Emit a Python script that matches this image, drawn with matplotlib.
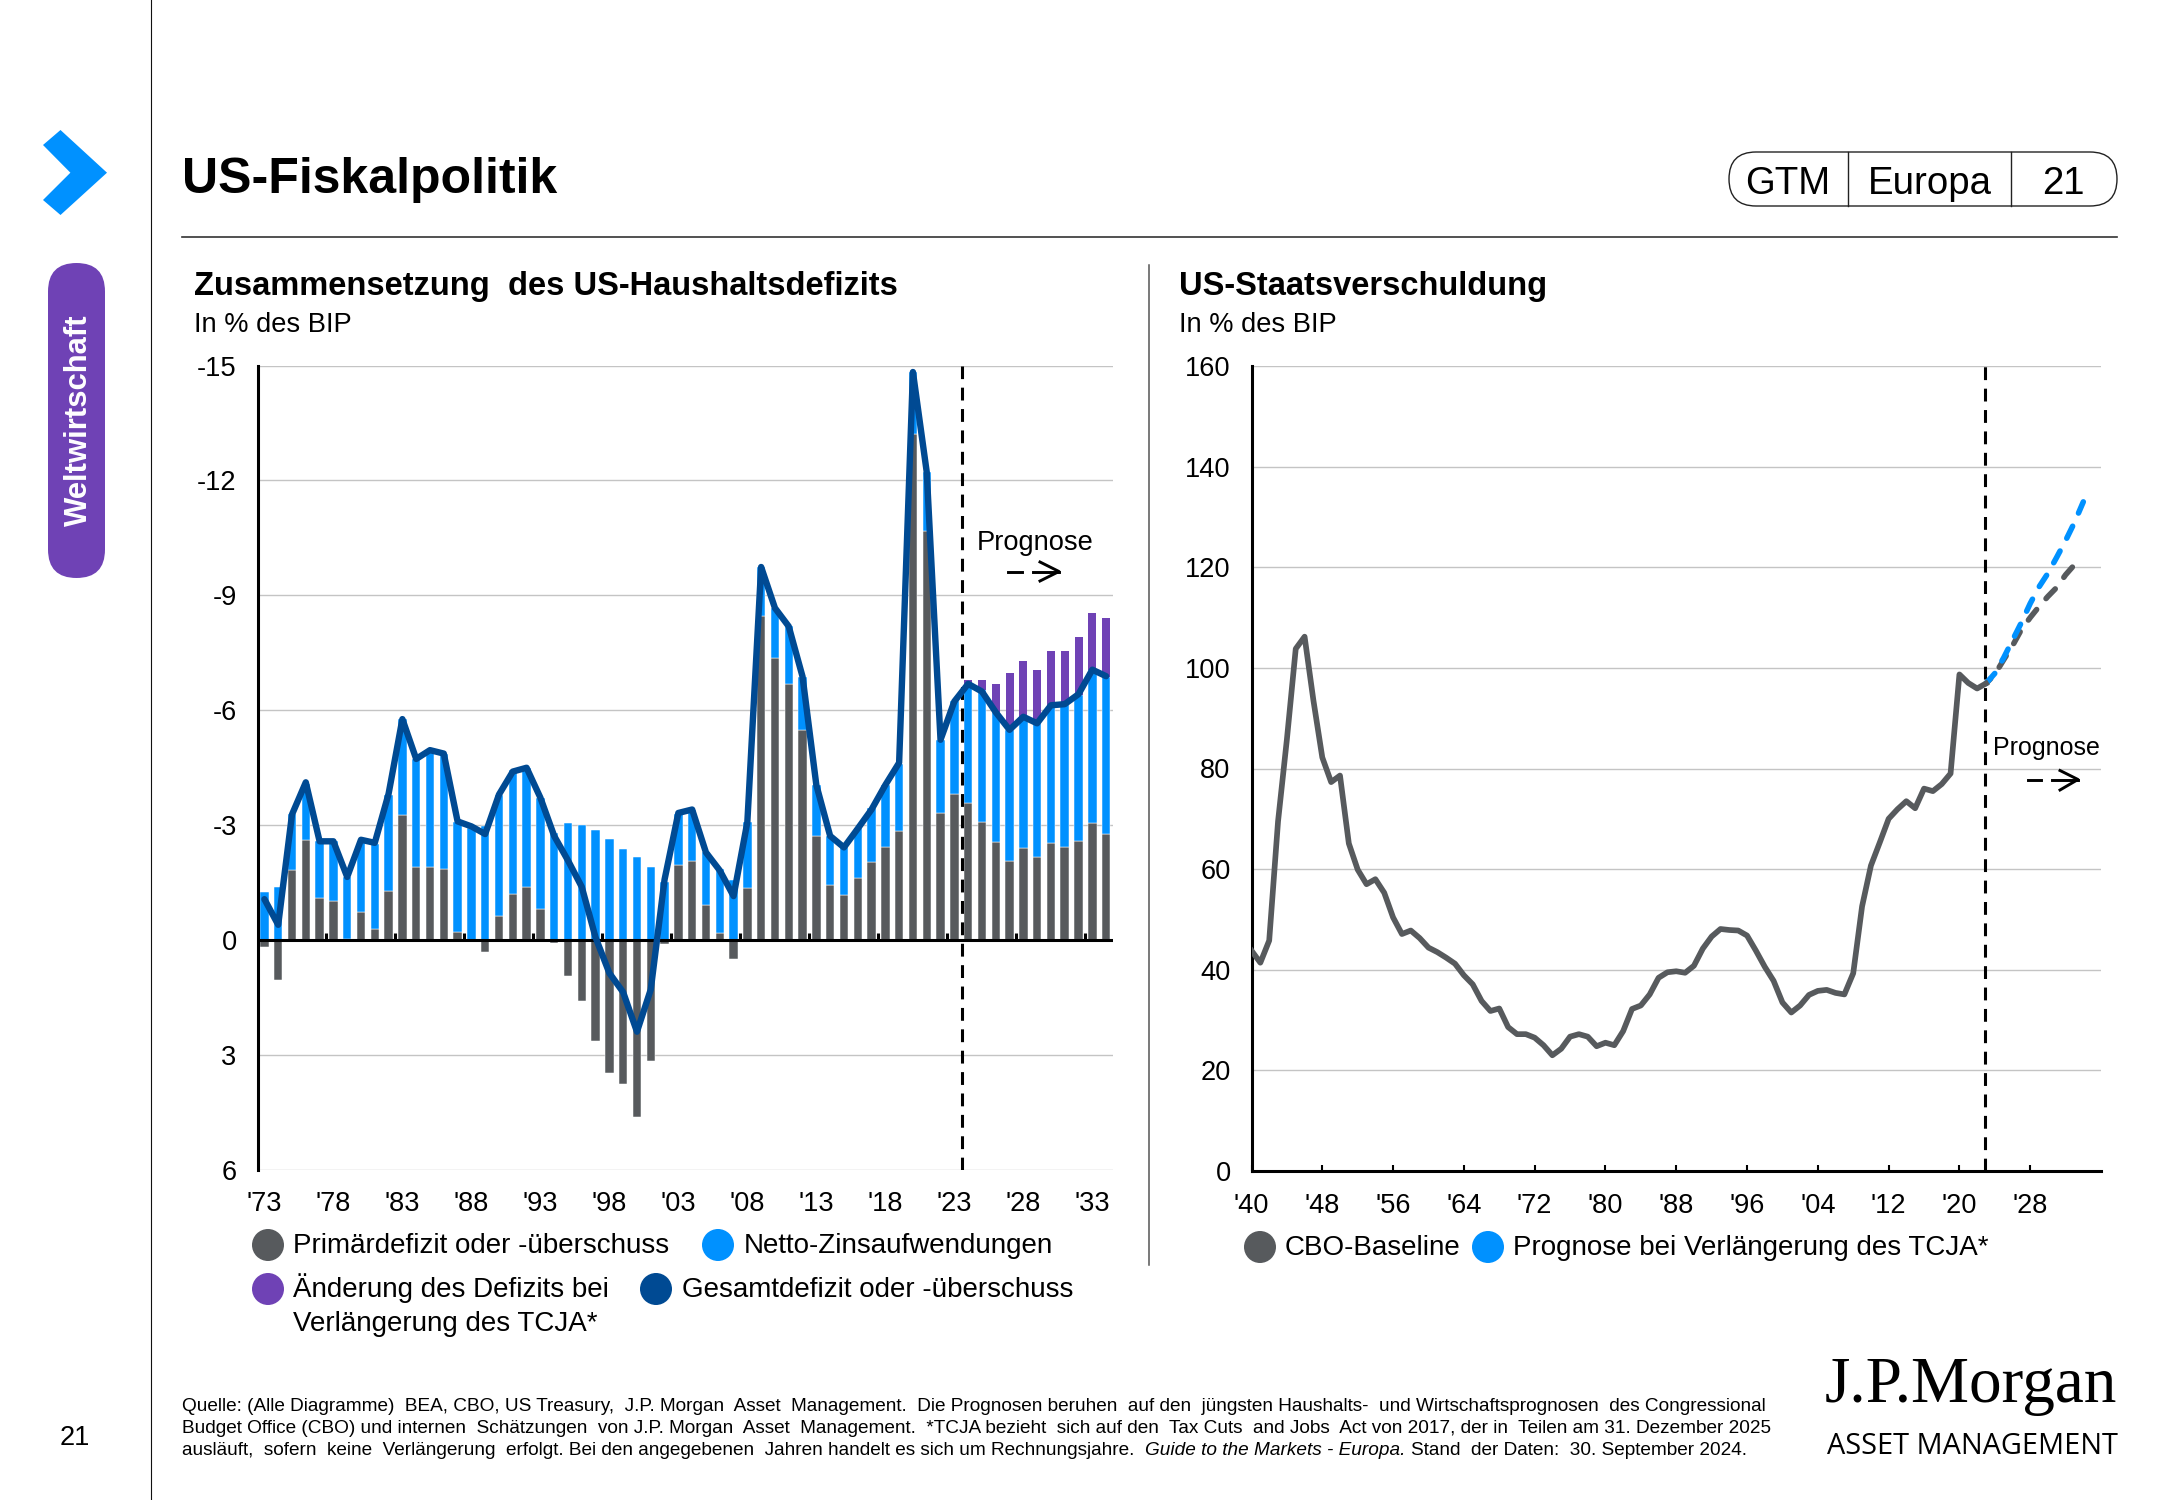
import numpy as np
import matplotlib
matplotlib.use("Agg")
import matplotlib.pyplot as plt
from matplotlib.patches import Circle, FancyBboxPatch, Polygon

plt.rcParams["font.family"] = ["Liberation Sans", "DejaVu Sans"]

W, H = 2167, 1500
GREY = "#575A5D"
BLUE = "#0091FF"
PURPLE = "#6F42B5"
NAVY = "#004A93"
GRID = "#C4C4C4"
TEXT = 19.6

# left chart, fiscal years 1973-2034, % of GDP, deficit is negative
years_left = list(range(1973, 2035))
primary = [0.19, 1.05, -1.83, -2.62, -1.10, -1.02, -0.03, -0.73, -0.29, -1.29,
           -3.27, -1.90, -1.90, -1.85, -0.21, 0.0, 0.32, -0.63, -1.20, -1.39,
           -0.82, 0.07, 0.93, 1.59, 2.64, 3.47, 3.75, 4.61, 3.15, 0.10,
           -1.96, -2.06, -0.92, -0.19, 0.50, -1.36, -8.47, -7.36, -6.69, -5.49,
           -2.72, -1.43, -1.17, -1.62, -2.03, -2.44, -2.85, -13.22, -10.69, -3.32,
           -3.81, -3.58, -3.08, -2.55, -2.06, -2.41, -2.16, -2.54, -2.44, -2.59,
           -3.05, -2.76]
# top of the blue segment
interest_top = [-1.25, -1.40, -3.28, -4.08, -2.58, -2.58, -1.65, -2.60, -2.50, -3.80,
                -5.77, -4.73, -4.95, -4.87, -3.08, -2.93, -2.98, -3.80, -4.44, -4.50,
                -3.72, -2.80, -3.05, -3.00, -2.87, -2.65, -2.39, -2.16, -1.92, -1.53,
                -3.30, -3.40, -2.30, -1.86, -1.58, -3.08, -9.74, -8.67, -8.20, -6.88,
                -4.05, -2.72, -2.44, -2.94, -3.44, -4.05, -4.61, -14.83, -12.22, -5.23,
                -6.23, -6.66, -6.52, -5.95, -5.49, -5.80, -5.66, -6.12, -6.16, -6.40,
                -7.05, -6.88]
# TCJA extension, top of the purple segment, 2024-2034
tcja_top = [-6.80, -6.78, -6.68, -6.98, -7.28, -7.06, -7.54, -7.56, -7.91, -8.55, -8.42]
total = [-1.07, -0.40, -3.28, -4.12, -2.58, -2.58, -1.65, -2.62, -2.54, -3.82,
         -5.77, -4.73, -4.96, -4.87, -3.10, -2.97, -2.77, -3.80, -4.40, -4.50,
         -3.72, -2.72, -2.08, -1.39, -0.07, 0.86, 1.36, 2.39, 1.29, -1.58,
         -3.32, -3.41, -2.29, -1.82, -1.15, -3.08, -9.74, -8.67, -8.19, -6.88,
         -4.05, -2.72, -2.42, -2.91, -3.41, -4.05, -4.63, -14.83, -12.22, -5.23,
         -6.23, -6.69, -6.49, -5.95, -5.49, -5.83, -5.66, -6.13, -6.16, -6.42,
         -7.06, -6.89]
left_ticks = [-15, -12, -9, -6, -3, 0, 3, 6]
left_tick_labels = ["-15", "-12", "-9", "-6", "-3", "0", "3", "6"]
left_year_labels = ["'73", "'78", "'83", "'88", "'93", "'98", "'03", "'08", "'13", "'18", "'23", "'28", "'33"]

# right chart, federal debt, % of GDP
years_debt = list(range(1940, 2024))
debt = [43.8, 41.4, 45.8, 69.5, 85.8, 103.8, 106.2, 93.5, 82.2, 77.3,
        78.6, 65.1, 59.9, 57.0, 58.0, 55.3, 50.4, 47.1, 47.8, 46.3,
        44.4, 43.5, 42.4, 41.2, 38.9, 37.1, 33.8, 31.8, 32.3, 28.6,
        27.2, 27.2, 26.5, 25.0, 23.0, 24.3, 26.7, 27.2, 26.7, 24.8,
        25.5, 25.0, 27.8, 32.2, 32.9, 35.1, 38.4, 39.5, 39.7, 39.4,
        40.8, 44.2, 46.6, 48.1, 47.9, 47.8, 46.8, 43.8, 40.6, 37.8,
        33.5, 31.5, 32.9, 35.0, 35.8, 36.0, 35.4, 35.1, 39.3, 52.6,
        60.7, 65.3, 70.0, 71.9, 73.5, 72.1, 76.0, 75.5, 76.9, 79.0,
        98.7, 97.0, 95.9, 96.9]
years_proj = list(range(2023, 2035))
baseline_proj = [96.9, 98.7, 101.6, 104.4, 107.6, 110.0, 112.2, 114.2, 116.0, 118.5, 120.5, 121.8]
tcja_proj = [96.9, 98.9, 102.0, 105.5, 109.0, 112.8, 116.1, 118.8, 122.0, 125.3, 128.9, 133.0]
debt_ticks = [0, 20, 40, 60, 80, 100, 120, 140, 160]
debt_years = list(range(1940, 2029, 8))
debt_year_labels = ["'40", "'48", "'56", "'64", "'72", "'80", "'88", "'96", "'04", "'12", "'20", "'28"]


def px_axes(x0, y0, x1, y1):
    return fig.add_axes([x0 / W, 1 - y1 / H, (x1 - x0) / W, (y1 - y0) / H])


def style_axes(ax):
    ax.set_facecolor("none")
    ax.grid(axis="y", color=GRID, lw=1.0, zorder=0)
    ax.set_axisbelow(True)
    for s in ["top", "right", "bottom"]:
        ax.spines[s].set_visible(False)
    ax.spines["left"].set_linewidth(2.2)
    ax.tick_params(axis="y", length=0, pad=15, labelsize=TEXT)


fig = plt.figure(figsize=(W / 100, H / 100), dpi=100, facecolor="white")

# page layer in pixel coordinates
page = fig.add_axes([0, 0, 1, 1])
page.set_xlim(0, W)
page.set_ylim(H, 0)
page.axis("off")

page.plot([151, 151], [0, H], color="#111111", lw=0.8)
page.plot([182, 2117], [236.5, 236.5], color="#333333", lw=1.2)
page.plot([1149, 1149], [265, 1265], color="#555555", lw=1.1)

page.add_patch(Polygon([(60.5, 130), (107, 172.7), (60.5, 215), (43, 200), (70.4, 172.7), (43, 145)],
                       closed=True, color=BLUE, lw=0, joinstyle="round"))
page.add_patch(FancyBboxPatch((48 + 28.5, 263 + 28.5), 0, 315 - 57, boxstyle="round,pad=28.5,rounding_size=28.5",
                              fc=PURPLE, ec="none"))
page.text(79, 420, "Weltwirtschaft", rotation=90, color="white", fontsize=22.3, fontweight="bold",
          ha="center", va="center")
page.text(75, 1438, "21", fontsize=TEXT, ha="center", va="center")

page.text(182, 193, "US-Fiskalpolitik", fontsize=36, fontweight="bold", va="baseline")

# GTM badge
page.add_patch(FancyBboxPatch((1729 + 27, 152 + 27), 388 - 54, 0, boxstyle="round,pad=27,rounding_size=27",
                              fc="none", ec="#222222", lw=1.0))
for sep in [1848, 2011]:
    page.plot([sep, sep], [152, 206], color="#222222", lw=1.0)
for lbl, cx in [("GTM", 1788), ("Europa", 1930), ("21", 2063)]:
    page.text(cx, 193.5, lbl, fontsize=27.6, ha="center", va="baseline")

page.text(194, 295.5, "Zusammensetzung  des US-Haushaltsdefizits", fontsize=23.5, fontweight="bold", va="baseline")
page.text(194, 332, "In % des BIP", fontsize=TEXT, va="baseline")
page.text(1179, 295.5, "US-Staatsverschuldung", fontsize=23.5, fontweight="bold", va="baseline")
page.text(1179, 332, "In % des BIP", fontsize=TEXT, va="baseline")

# left chart
ax1 = px_axes(257.5, 365.5, 1113, 1170)
style_axes(ax1)
xs = np.arange(len(years_left))
prim = np.array(primary)
top = np.array(interest_top)
deficit_part = np.minimum(prim, 0)
ax1.bar(xs, prim, width=0.61, color=GREY, edgecolor="white", linewidth=0.35, zorder=2)
ax1.bar(xs, top - deficit_part, bottom=deficit_part, width=0.61, color=BLUE, edgecolor="white", linewidth=0.35, zorder=2)
fc = np.arange(years_left.index(2024), len(years_left))
ax1.bar(fc, np.array(tcja_top) - top[fc], bottom=top[fc], width=0.58, color=PURPLE, linewidth=0, zorder=2)
ax1.axhline(0, color="black", lw=2.2, zorder=3)
ax1.vlines(np.arange(4.5, 60, 5), 0, -0.18, color="black", lw=2.2, zorder=3)
ax1.axvline(50.55, color="black", lw=2.2, linestyle=(0, (4.2, 2.8)), zorder=4)
ax1.plot(xs, total, color=NAVY, lw=4.6, solid_joinstyle="round", solid_capstyle="round", zorder=5)
ax1.set_xlim(-0.5, 61.5)
ax1.set_ylim(6, -15)
ax1.set_yticks(left_ticks)
ax1.set_yticklabels(left_tick_labels)
ax1.set_xticks(xs[::5])
ax1.set_xticklabels(left_year_labels, fontsize=TEXT)
ax1.tick_params(axis="x", length=0, pad=15)

# right chart
ax2 = px_axes(1251.5, 366, 2101, 1171)
style_axes(ax2)
ax2.spines["bottom"].set_visible(True)
ax2.spines["bottom"].set_linewidth(2.2)
ax2.plot(years_proj, baseline_proj, color=GREY, lw=4.0, linestyle=(1.2, (2.4, 2.6)), dash_capstyle="round", zorder=3)
ax2.plot(years_proj, tcja_proj, color=BLUE, lw=4.0, linestyle=(0, (2.4, 2.6)), dash_capstyle="round", zorder=4)
ax2.plot(years_debt, debt, color=GREY, lw=4.1, solid_joinstyle="round", zorder=5)
ax2.axvline(2022.85, color="black", lw=2.2, linestyle=(0, (4.2, 2.8)), zorder=2)
ax2.set_xlim(1940, 2036)
ax2.set_ylim(0, 160)
ax2.set_yticks(debt_ticks)
ax2.set_xticks(debt_years)
ax2.set_xticklabels(debt_year_labels, fontsize=TEXT)
ax2.tick_params(axis="x", direction="in", length=4, width=1.5, pad=16)

# forecast notes
page.set_zorder(5)
page.patch.set_visible(False)
page.text(977, 550, "Prognose", fontsize=TEXT, va="baseline")
page.plot([1008, 1022], [571.5, 571.5], color="black", lw=2.1)
page.plot([1033, 1059], [571.5, 571.5], color="black", lw=2.1)
page.plot([1040, 1059, 1040], [562, 571.5, 581], color="black", lw=2.1)
page.text(1993, 755, "Prognose", fontsize=18, va="baseline")
page.plot([2028, 2041], [779.5, 779.5], color="black", lw=2.1)
page.plot([2052, 2078], [779.5, 779.5], color="black", lw=2.1)
page.plot([2060, 2078, 2060], [770.5, 779.5, 790], color="black", lw=2.1)

# legends
legend_items = [
    (268, 1245, GREY, 293, 1253, "Primärdefizit oder -überschuss"),
    (718, 1245, BLUE, 744, 1253, "Netto-Zinsaufwendungen"),
    (268, 1289, PURPLE, 293, 1297, "Änderung des Defizits bei"),
    (656, 1289, NAVY, 681.5, 1297, "Gesamtdefizit oder -überschuss"),
    (1260, 1247, GREY, 1285, 1255, "CBO-Baseline"),
    (1488, 1247, BLUE, 1513, 1255, "Prognose bei Verlängerung des TCJA*"),
]
for cx, cy, col, tx, ty, lbl in legend_items:
    page.add_patch(Circle((cx, cy), 16, color=col, lw=0))
    page.text(tx, ty, lbl, fontsize=20, va="baseline")
page.text(293, 1331, "Verlängerung des TCJA*", fontsize=20, va="baseline")

# footnote, the original is justified so some gaps are doubled
FOOT = 13.65
page.text(181.5, 1411, "Quelle: (Alle Diagramme)  BEA, CBO, US Treasury,  J.P. Morgan  Asset  Management.  Die Prognosen beruhen  auf den  jüngsten Haushalts-  und Wirtschaftsprognosen  des Congressional",
          fontsize=FOOT, va="baseline")
page.text(181.5, 1433, "Budget Office (CBO) und internen  Schätzungen  von J.P. Morgan  Asset  Management.  *TCJA bezieht  sich auf den  Tax Cuts  and Jobs  Act von 2017, der in  Teilen am 31. Dezember 2025",
          fontsize=FOOT, va="baseline")
fig.canvas.draw()
renderer = fig.canvas.get_renderer()
x_run = 181.5
for part, style, gap in [("ausläuft,  sofern  keine  Verlängerung  erfolgt. Bei den angegebenen  Jahren handelt es sich um Rechnungsjahre.", "normal", 11),
                         ("Guide to the Markets - Europa.", "italic", 6),
                         ("Stand  der Daten:  30. September 2024.", "normal", 0)]:
    t = page.text(x_run, 1455, part, fontsize=FOOT, style=style, va="baseline")
    x_run = t.get_window_extent(renderer).x1 + gap

# logo
page.text(1825, 1402, "J.P.Morgan", fontsize=47, family="Liberation Serif", va="baseline")
page.text(1827, 1454, "ASSET MANAGEMENT", fontsize=20.8, family="Open Sans", va="baseline")

fig.savefig("out.png", dpi=100)
